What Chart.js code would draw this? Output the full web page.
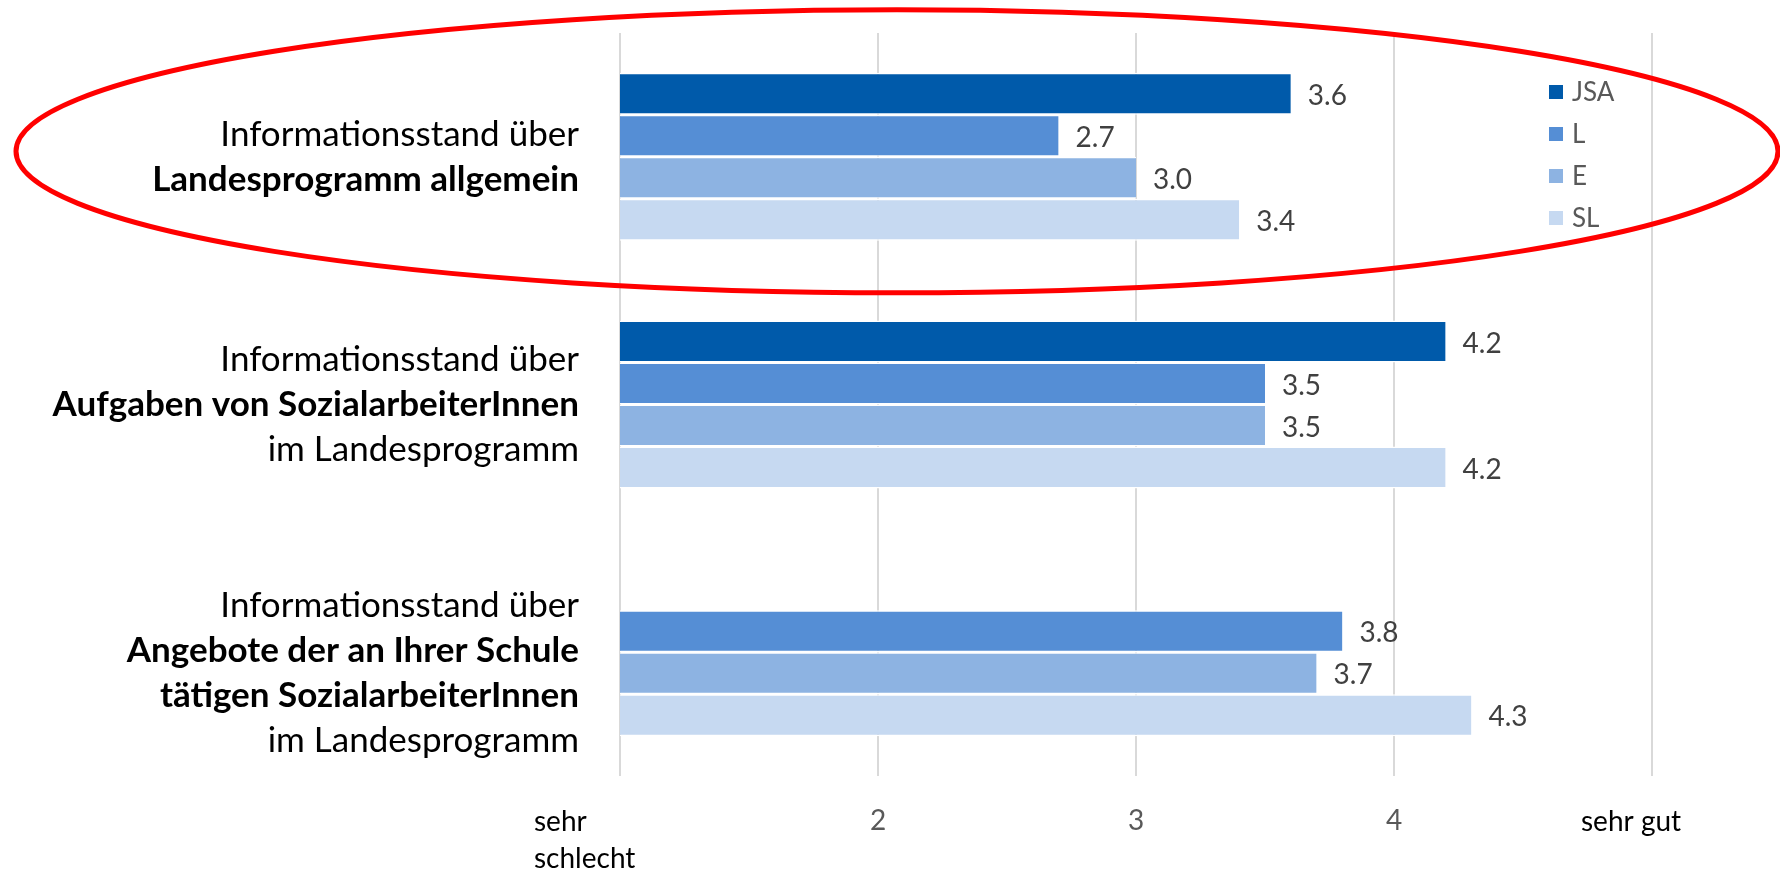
<!DOCTYPE html>
<html lang="de">
<head>
<meta charset="utf-8">
<title>Informationsstand Landesprogramm</title>
<script src="https://cdn.jsdelivr.net/npm/chart.js@4.4.1/dist/chart.umd.min.js"></script>
<style>
  html, body { margin: 0; padding: 0; background: #fff; }
  #wrap { width: 1780px; height: 871px; position: relative; }
</style>
</head>
<body>
<div id="wrap"><canvas id="infoChart"></canvas></div>
<script>
// Fragen, je Zeile [Text, fett]
const questions = [
  [['Informationsstand über', false], ['Landesprogramm allgemein', true]],
  [['Informationsstand über', false], ['Aufgaben von SozialarbeiterInnen', true], ['im Landesprogramm', false]],
  [['Informationsstand über', false], ['Angebote der an Ihrer Schule', true], ['tätigen SozialarbeiterInnen', true], ['im Landesprogramm', false]]
];

const groups = ['JSA', 'L', 'E', 'SL'];
const jsaValues = [3.6, 4.2, null];
const lValues = [2.7, 3.5, 3.8];
const eValues = [3.0, 3.5, 3.7];
const slValues = [3.4, 4.2, 4.3];
const groupColors = ['#005AAA', '#558ED5', '#8DB3E2', '#C6D9F1'];

const scaleMin = 1;
const scaleMax = 5;
const lowLabel = ['sehr', 'schlecht'];
const highLabel = ['sehr gut'];

const FONT = 'Lato, "Open Sans", sans-serif';

const allValues = [jsaValues, lValues, eValues, slValues];

// Zahlen hinter den Balken
const valueLabels = {
    id: 'valueLabels',
    afterDatasetsDraw(chart) {
        const ctx = chart.ctx;
        ctx.save();
        ctx.font = '28px ' + FONT;
        ctx.fillStyle = '#404040';
        ctx.textAlign = 'left';
        ctx.textBaseline = 'middle';
        chart.data.datasets.forEach((ds, i) => {
            chart.getDatasetMeta(i).data.forEach((bar, j) => {
                const v = ds.data[j];
                if (v == null) return;
                ctx.fillText(v.toFixed(1), bar.x + 17, bar.y + 2);
            });
        });
        ctx.restore();
    }
};

// Fragetexte links, mittig zu den sichtbaren Balken
const questionLabels = {
    id: 'questionLabels',
    afterDraw(chart) {
        const ctx = chart.ctx;
        const right = chart.chartArea.left - 41;
        const lineGap = 45;
        ctx.save();
        ctx.fillStyle = '#000';
        ctx.textAlign = 'right';
        ctx.textBaseline = 'middle';
        questions.forEach((lines, j) => {
            let top = Infinity, bottom = -Infinity;
            chart.data.datasets.forEach((ds, i) => {
                if (ds.data[j] == null) return;
                const bar = chart.getDatasetMeta(i).data[j];
                top = Math.min(top, bar.y - bar.height / 2);
                bottom = Math.max(bottom, bar.y + bar.height / 2);
            });
            const mid = (top + bottom) / 2;
            const y0 = mid - (lines.length - 1) / 2 * lineGap;
            lines.forEach(([text, bold], k) => {
                ctx.font = (bold ? 'bold ' : '') + '35px ' + FONT;
                ctx.fillText(text, right, y0 + k * lineGap);
            });
        });
        ctx.restore();
    }
};

// Skalenenden "sehr schlecht" / "sehr gut"
const scaleEnds = {
    id: 'scaleEnds',
    afterDraw(chart) {
        const ctx = chart.ctx;
        const x = chart.scales.x;
        const y = chart.chartArea.bottom + 46;
        ctx.save();
        ctx.font = '28px ' + FONT;
        ctx.fillStyle = '#000';
        ctx.textAlign = 'left';
        ctx.textBaseline = 'middle';
        lowLabel.forEach((t, k) => ctx.fillText(t, x.getPixelForValue(scaleMin) - 86, y + k * 37));
        highLabel.forEach((t, k) => ctx.fillText(t, x.getPixelForValue(scaleMax) - 71, y + k * 37));
        ctx.restore();
    }
};

// Legende oben rechts im Diagramm
const boxLegend = {
    id: 'boxLegend',
    afterDraw(chart) {
        const ctx = chart.ctx;
        const left = chart.chartArea.right - 103;
        const top = chart.chartArea.top + 59;
        ctx.save();
        ctx.font = '26px ' + FONT;
        ctx.textAlign = 'left';
        ctx.textBaseline = 'middle';
        chart.data.datasets.forEach((ds, i) => {
            const cy = top + i * 42;
            ctx.fillStyle = ds.backgroundColor;
            ctx.fillRect(left, cy - 7, 14, 14);
            ctx.fillStyle = '#595959';
            ctx.fillText(ds.label, left + 23, cy + 1);
        });
        ctx.restore();
    }
};

// roter Kreis um die erste Frage
const highlightRing = {
    id: 'highlightRing',
    afterDraw(chart) {
        const ctx = chart.ctx;
        const cy = chart.scales.y.getPixelForValue(0) - 5.5;
        ctx.save();
        ctx.strokeStyle = '#FF0000';
        ctx.lineWidth = 5;
        ctx.beginPath();
        ctx.ellipse(897, cy, 881, 141.5, 0, 0, Math.PI * 2);
        ctx.stroke();
        ctx.restore();
    }
};

const ctx = document.getElementById('infoChart').getContext('2d');
new Chart(ctx, {
    type: 'bar',
    data: {
        labels: questions.map(q => q.map(l => l[0]).join(' ')),
        datasets: groups.map((g, i) => ({
            label: g,
            data: allValues[i],
            backgroundColor: groupColors[i],
            borderColor: '#fff',
            borderWidth: { top: 1.5, bottom: 1.5, left: 0, right: 0 },
            borderSkipped: false,
            categoryPercentage: 0.678,
            barPercentage: 1
        }))
    },
    options: {
        indexAxis: 'y',
        responsive: true,
        maintainAspectRatio: false,
        animation: false,
        layout: { padding: { left: 620, right: 128, top: 33, bottom: 0 } },
        plugins: {
            legend: { display: false },
            tooltip: { enabled: false }
        },
        scales: {
            x: {
                min: scaleMin,
                max: scaleMax,
                afterFit(scale) { scale.height = 95; },
                grid: { color: '#D9D9D9', lineWidth: 2, drawTicks: false },
                border: { display: false },
                ticks: {
                    stepSize: 1,
                    padding: 28,
                    color: '#595959',
                    font: { family: FONT, size: 28 },
                    callback: v => (v === scaleMin || v === scaleMax) ? '' : String(v)
                }
            },
            y: {
                display: false
            }
        }
    },
    plugins: [valueLabels, questionLabels, scaleEnds, boxLegend, highlightRing]
});
</script>
</body>
</html>
